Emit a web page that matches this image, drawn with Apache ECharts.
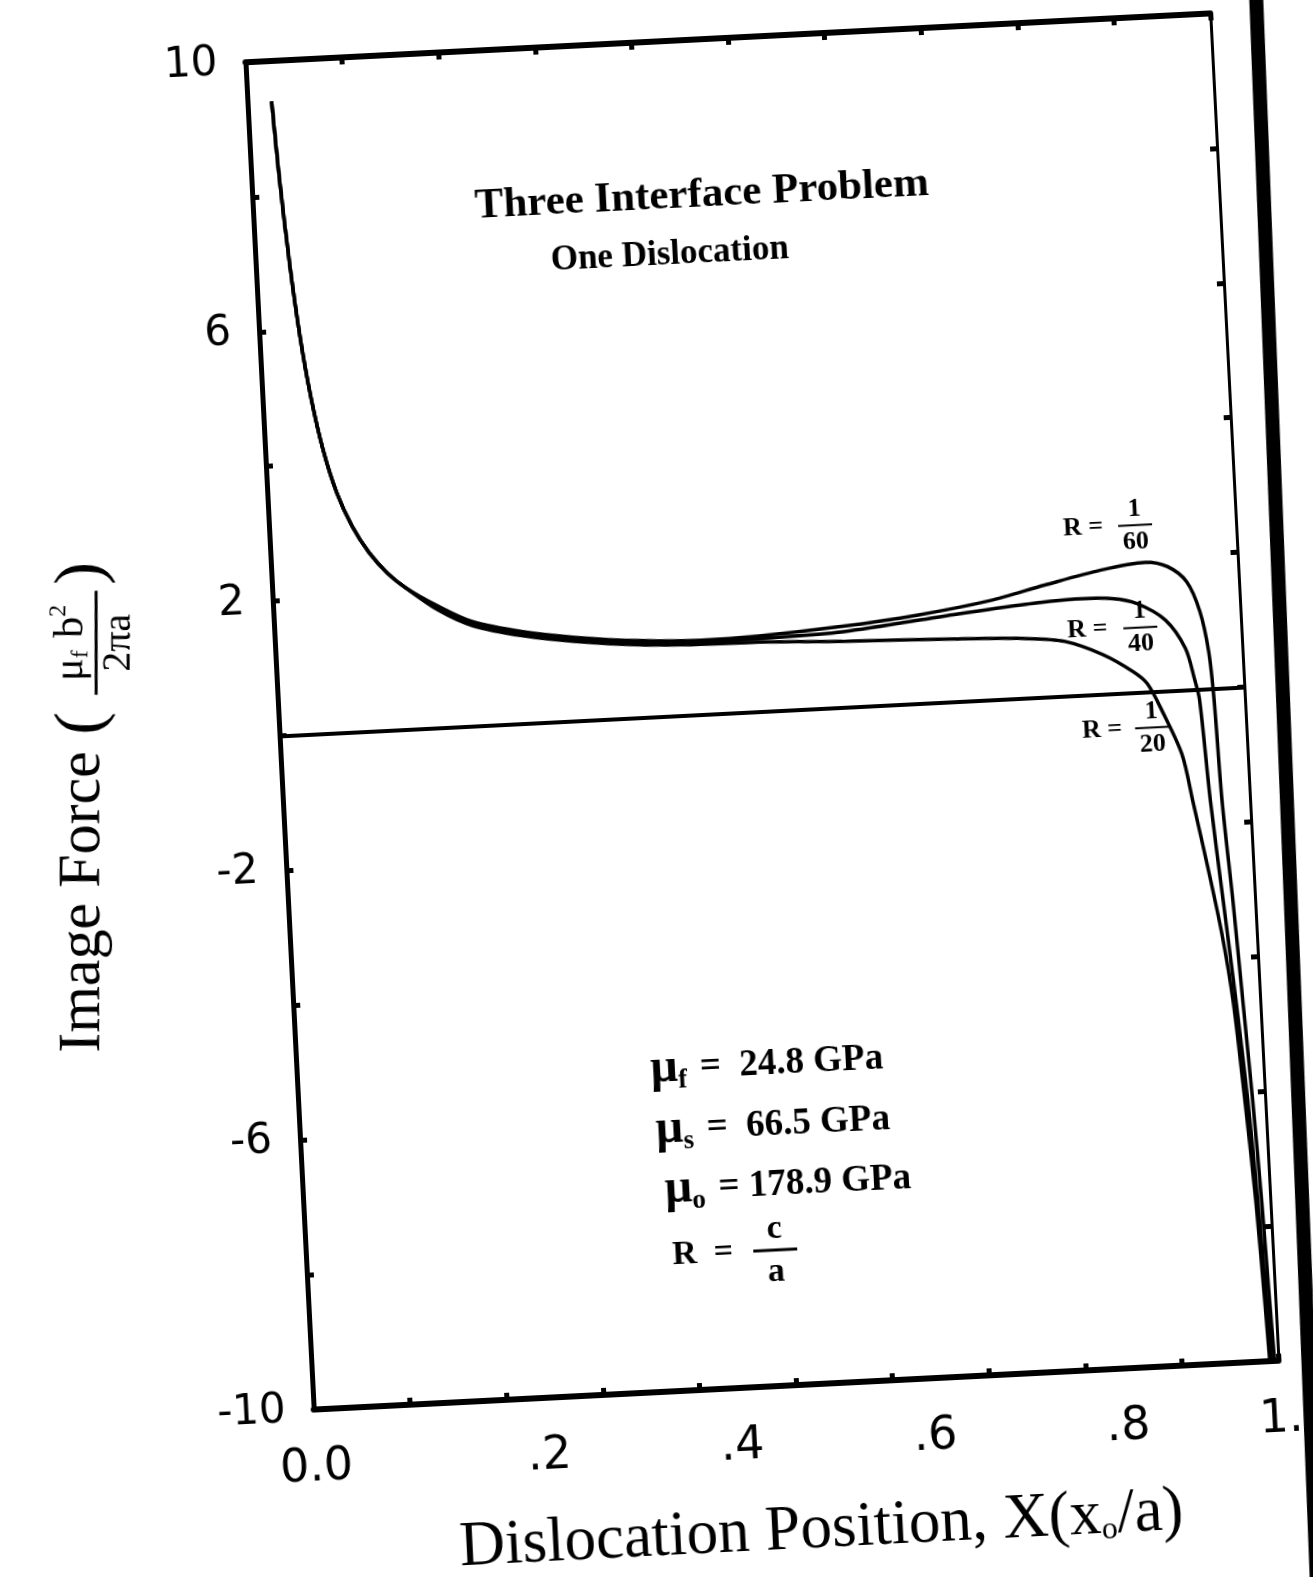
<!DOCTYPE html>
<html>
<head>
<meta charset="UTF-8">
<title>Three Interface Problem</title>
<style>
  html, body { margin: 0; padding: 0; background: #fff; overflow: hidden; width: 1313px; height: 1577px; }
  /* the scanned figure sits a little tilted on the page */
  #main { position: absolute; left: 0; top: 0; width: 1400px; height: 1700px;
          transform: rotate(-2.9deg); transform-origin: 762px 712px; }
</style>
</head>
<body>
<div id="main"></div>
<script src="https://cdn.jsdelivr.net/npm/echarts@6.0.0/dist/echarts.min.js"></script>
<script>
// steep left branch, the same for every R
var xLeft = [0.025, 0.029, 0.035, 0.042, 0.050, 0.060, 0.072, 0.086, 0.102, 0.120, 0.138];
var yLeft = [9.40, 8.25, 7.00, 5.90, 5.00, 4.20, 3.55, 3.05, 2.65, 2.33, 2.10];

// R = 1/60
var x60 = [0.171, 0.205, 0.257, 0.310, 0.378, 0.440, 0.500, 0.587, 0.665, 0.741, 0.799, 0.858, 0.904, 0.927, 0.946, 0.958, 0.965, 0.968, 0.971, 0.977, 0.982, 0.987, 0.991, 0.994, 0.996];
var y60 = [1.80, 1.55, 1.36, 1.24, 1.14, 1.10, 1.12, 1.20, 1.31, 1.47, 1.66, 1.84, 1.92, 1.84, 1.60, 1.15, 0.55, -0.15, -1.67, -3.16, -4.65, -6.14, -7.63, -9.12, -10];

// R = 1/40
var x40 = [0.171, 0.205, 0.257, 0.310, 0.378, 0.440, 0.500, 0.588, 0.703, 0.779, 0.830, 0.868, 0.893, 0.922, 0.941, 0.949, 0.953, 0.959, 0.967, 0.975, 0.982, 0.987, 0.991, 0.993];
var y40 = [1.77, 1.52, 1.33, 1.21, 1.11, 1.07, 1.08, 1.12, 1.29, 1.39, 1.43, 1.41, 1.32, 1.05, 0.62, 0.15, -0.15, -1.67, -3.16, -4.65, -6.14, -7.63, -9.12, -10];

// R = 1/20
var x20 = [0.171, 0.205, 0.257, 0.310, 0.378, 0.440, 0.500, 0.587, 0.702, 0.779, 0.817, 0.855, 0.886, 0.900, 0.914, 0.932, 0.941, 0.953, 0.964, 0.972, 0.979, 0.985, 0.989, 0.991];
var y20 = [1.74, 1.49, 1.30, 1.18, 1.08, 1.04, 1.03, 0.98, 0.93, 0.88, 0.81, 0.59, 0.31, 0.12, -0.30, -0.95, -1.67, -2.66, -3.65, -4.65, -6.14, -7.63, -9.12, -10];

var xLabels = {0: '0.0', 2: '.2', 4: '.4', 6: '.6', 8: '.8', 10: '1.'};
var yLabels = [-10, -6, -2, 2, 6, 10];

var serif = '"Liberation Serif", "Times New Roman", serif';
var plotFont = '"DejaVu Sans", sans-serif';

var chart = echarts.init(document.getElementById('main'));

function pairs(xs, ys) {
  return xs.map(function (x, i) { return [x, ys[i]]; });
}

function curve(name, xs, ys) {
  return {
    name: name,
    type: 'line',
    data: pairs(xLeft.concat(xs), yLeft.concat(ys)),
    symbol: 'none',
    smooth: 0.3,
    silent: true,
    lineStyle: { color: '#000', width: 3.5 }
  };
}

function frameAxis(pos, width, extra) {
  var a = {
    type: 'value',
    position: pos,
    axisLine: { onZero: false, lineStyle: { color: '#000', width: width } },
    axisTick: { inside: true, length: 7, lineStyle: { color: '#000', width: 5 } },
    axisLabel: { show: false },
    splitLine: { show: false }
  };
  for (var k in extra) a[k] = extra[k];
  return a;
}

var series = [curve('R = 1/60', x60, y60), curve('R = 1/40', x40, y40), curve('R = 1/20', x20, y20)];
series[0].markLine = {
  silent: true, symbol: 'none', label: { show: false },
  lineStyle: { color: '#000', width: 4, type: 'solid' },
  data: [{ yAxis: 0 }]
};

var xBottom = frameAxis('bottom', 6, { min: 0, max: 1, interval: 0.1 });
xBottom.axisLabel = {
  show: true, margin: 36, color: '#000', fontFamily: plotFont, fontSize: 46,
  formatter: function (v) {
    var k = Math.round(v * 10);
    if (!(k in xLabels)) return '';
    if (k === 0 || k === 10) return xLabels[k];
    return '{p|' + xLabels[k] + '}';
  },
  rich: { p: { color: '#000', fontFamily: plotFont, fontSize: 46, padding: [0, 0, 0, 80] } }
};
var yLeftAxis = frameAxis('left', 5, { min: -10, max: 10, interval: 2 });
yLeftAxis.axisLabel = {
  show: true, margin: 28, color: '#000', fontFamily: plotFont, fontSize: 42,
  formatter: function (v) { return yLabels.indexOf(v) >= 0 ? String(v) : ''; }
};

chart.setOption({
  backgroundColor: '#fff',
  animation: false,
  grid: { left: 279, top: 37, width: 966, height: 1349 },
  xAxis: [xBottom, frameAxis('top', 6, { min: 0, max: 1, interval: 0.1 })],
  yAxis: [yLeftAxis, frameAxis('right', 3, { min: -10, max: 10, interval: 2 })],
  series: series
});

function txt(x, y, text, font, extra) {
  var st = { text: text, font: font, fill: '#000', align: 'center', verticalAlign: 'middle',
             textAlign: 'center', textVerticalAlign: 'middle' };
  for (var k in extra) st[k] = extra[k];
  return { type: 'text', x: x, y: y, silent: true, style: st };
}

// "R = num/den" with a stacked fraction
function fracLabel(x, y, size, head, num, den, gap, barW) {
  var f = 'bold ' + size + 'px ' + serif;
  return {
    type: 'group', x: x, y: y, silent: true,
    children: [
      txt(0, 0, head, f, { align: 'left', textAlign: 'left' }),
      txt(gap, -size * 0.62, num, f),
      { type: 'line', shape: { x1: gap - barW / 2, y1: 0, x2: gap + barW / 2, y2: 0 },
        style: { stroke: '#000', lineWidth: Math.max(2, size / 12) } },
      txt(gap, size * 0.64, den, f)
    ]
  };
}

var paramRich = {
  m: { fontFamily: serif, fontSize: 48, fontWeight: 'bold' },
  s: { fontFamily: serif, fontSize: 27, fontWeight: 'bold', padding: [24, 4, 0, 0] },
  t: { fontFamily: serif, fontSize: 37, fontWeight: 'bold' }
};
function muLine(sub, rest) { return '{m|μ}{s|' + sub + '}{t|' + rest + '}'; }

var toPx = function (p) { return chart.convertToPixel({ xAxisIndex: 0, yAxisIndex: 0 }, p); };
var p60 = toPx([0.821, 2.48]), p40 = toPx([0.820, 0.96]), p20 = toPx([0.830, -0.53]);

var graphic = [
  // page edge shadow from the scan
  { type: 'line', silent: true, shape: { x1: 1292, y1: 0, x2: 1271, y2: 1700 },
    style: { stroke: '#000', lineWidth: 14 } },
  txt(728, 193, 'Three Interface Problem', 'bold 43px ' + serif),
  txt(693, 251, 'One Dislocation', 'bold 35px ' + serif),
  txt(749, 1064, muLine('f', ' =  24.8 GPa'), '', { rich: paramRich }),
  txt(752, 1125, muLine('s', ' =  66.5 GPa'), '', { rich: paramRich }),
  txt(764, 1185, muLine('o', ' = 178.9 GPa'), '', { rich: paramRich }),
  fracLabel(645, 1250, 34, 'R  =', 'c', 'a', 103, 44),
  fracLabel(p60[0], p60[1], 26, 'R =', '1', '60', 72, 34),
  fracLabel(p40[0], p40[1], 26, 'R =', '1', '40', 73, 34),
  fracLabel(p20[0], p20[1], 26, 'R =', '1', '20', 70, 34),
  // x axis title
  txt(780, 1532, '{a|Dislocation Position, X(x}{s|o}{a|/a)}', '', {
    rich: { a: { fontFamily: serif, fontSize: 63 }, s: { fontFamily: serif, fontSize: 32, padding: [30, 0, 0, 0] } }
  }),
  // y axis title, stays upright on the page
  {
    type: 'group', x: 67, y: 1018, rotation: Math.PI / 2 - 0.05, silent: true,
    children: [
      txt(0, 0, 'Image Force', '60px ' + serif, { align: 'left', textAlign: 'left' }),
      txt(318, 0, '(', '68px ' + serif, { align: 'left', textAlign: 'left' }),
      txt(410, -12, '{m|μ}{s|f}{t| b}{p|2}', '', {
        rich: {
          m: { fontFamily: serif, fontSize: 42 },
          s: { fontFamily: serif, fontSize: 24, padding: [20, 2, 0, 0] },
          t: { fontFamily: serif, fontSize: 42 },
          p: { fontFamily: serif, fontSize: 24, padding: [0, 0, 24, 0] }
        }
      }),
      { type: 'line', shape: { x1: 358, y1: 13, x2: 462, y2: 13 }, style: { stroke: '#000', lineWidth: 3 } },
      txt(410, 36, '2πa', '40px ' + serif),
      txt(468, 0, ')', '68px ' + serif, { align: 'left', textAlign: 'left' })
    ]
  }
];

chart.setOption({ graphic: graphic });
</script>
</body>
</html>
